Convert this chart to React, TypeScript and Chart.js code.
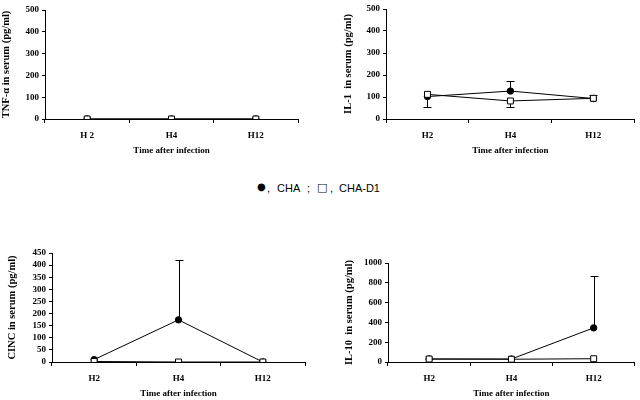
import React, { useEffect, useRef } from "react";
import { Chart, registerables } from "chart.js";
Chart.register(...registerables);

// ---------- data ----------
const timeLabelsTNF = ["H 2", "H4", "H12"];
const timeLabels = ["H2", "H4", "H12"];

const tnfCHA = [0, 0, 0];
const tnfCHAD1 = [0, 0, 0];

const il1CHA = [102, 127, 93];
const il1CHAUp = [0, 46, 0];
const il1CHADown = [46, 0, 0];
const il1CHAD1 = [112, 82, 94];
const il1CHAD1Up = [0, 0, 16];
const il1CHAD1Down = [0, 26, 0];

const cincCHA = [10, 174, 0];
const cincCHAUp = [0, 249, 0];
const cincCHAD1 = [2, 0, 0];

const il10CHA = [30, 30, 345];
const il10CHAUp = [0, 0, 525];
const il10CHAD1 = [30, 28, 33];

const zeros = [0, 0, 0];

const serif = "'Liberation Serif', 'Times New Roman', serif";
const FS = 9;
const LH = FS * 1.2;
const YFS = 10.5;
const YLH = YFS * 1.2;

const errorBarPlugin = {
  id: "errbars",
  beforeDatasetsDraw(chart: any) {
    const ctx = chart.ctx;
    const y = chart.scales.y;
    ctx.save();
    ctx.strokeStyle = "#000";
    ctx.lineWidth = 1;
    chart.data.datasets.forEach((ds: any, i: number) => {
      const meta = chart.getDatasetMeta(i);
      meta.data.forEach((pt: any, j: number) => {
        const v = ds.data[j];
        const up = ds.errUp ? ds.errUp[j] : 0;
        const dn = ds.errDown ? ds.errDown[j] : 0;
        const x = Math.round(pt.x) + 0.5;
        const draw = (val: number) => {
          const py = Math.round(y.getPixelForValue(val)) + 0.5;
          ctx.beginPath();
          ctx.moveTo(x, pt.y);
          ctx.lineTo(x, py);
          ctx.moveTo(x - 4, py);
          ctx.lineTo(x + 4, py);
          ctx.stroke();
        };
        if (up) draw(v + up);
        if (dn) draw(v - dn);
      });
    });
    ctx.restore();
  },
};

type PanelProps = {
  left: number; top: number; w: number; h: number;
  aLeft: number; aRight: number; aTop: number; aBottom: number;
  yTitleX: number; xTitleY: number;
  labels: string[];
  cha: number[]; chaUp: number[]; chaDown: number[];
  chad1: number[]; chad1Up: number[]; chad1Down: number[];
  yMax: number; yStep: number; yTitle: string;
};

function Panel(p: PanelProps) {
  const ref = useRef<HTMLCanvasElement>(null);
  useEffect(() => {
    const padLeft = p.yTitleX - YLH / 2;
    const yWidth = p.aLeft - padLeft;
    const xHeight = p.xTitleY + LH / 2 - p.aBottom;
    const padBottom = p.h - p.aBottom - xHeight;
    const font = { family: serif, size: FS, weight: "bold" as const };
    const yFont = { family: serif, size: YFS, weight: "bold" as const };
    const chart = new Chart(ref.current!, {
      type: "line",
      data: {
        labels: p.labels,
        datasets: [
          {
            label: "CHA-D1",
            data: p.chad1,
            errUp: p.chad1Up,
            errDown: p.chad1Down,
            borderColor: "#000",
            borderWidth: 1,
            pointStyle: "rect",
            pointRadius: 4.2,
            pointBackgroundColor: "#fff",
            pointBorderColor: "#000",
            pointBorderWidth: 1,
            order: 0,
          } as any,
          {
            label: "CHA",
            data: p.cha,
            errUp: p.chaUp,
            errDown: p.chaDown,
            borderColor: "#000",
            borderWidth: 1,
            pointStyle: "circle",
            pointRadius: 3.2,
            pointBackgroundColor: "#000",
            pointBorderColor: "#000",
            order: 1,
          } as any,
        ],
      },
      options: {
        animation: false,
        responsive: false,
        devicePixelRatio: 1,
        layout: {
          padding: { left: padLeft, right: p.w - p.aRight, top: p.aTop, bottom: padBottom },
        },
        plugins: { legend: { display: false }, tooltip: { enabled: false } },
        scales: {
          x: {
            offset: true,
            grid: { display: true, offset: true, drawOnChartArea: false, drawTicks: true, tickLength: 4, color: "#000" },
            border: { display: true, color: "#000", width: 1 },
            ticks: { color: "#000", font, padding: 7, maxRotation: 0 },
            title: { display: true, text: "Time after infection", color: "#000", font, padding: 0 },
            afterFit: (s: any) => { s.height = xHeight; },
          },
          y: {
            min: 0,
            max: p.yMax,
            ticks: {
              stepSize: p.yStep,
              autoSkip: false,
              color: "#000",
              font,
              padding: 3,
              callback: (v: any) => String(v),
            },
            grid: { display: true, drawOnChartArea: false, drawTicks: true, tickLength: 3, color: "#000" },
            border: { display: true, color: "#000", width: 1 },
            title: { display: true, text: p.yTitle, color: "#000", font: yFont, padding: 0 },
            afterFit: (s: any) => { s.width = yWidth; },
          },
        },
      },
      plugins: [errorBarPlugin],
    });
    return () => chart.destroy();
  }, []);
  return (
    <canvas
      ref={ref}
      width={p.w}
      height={p.h}
      style={{ position: "absolute", left: p.left, top: p.top, width: p.w, height: p.h }}
    />
  );
}

const legendStyle: React.CSSProperties = {
  position: "absolute",
  top: 181,
  fontFamily: "'Liberation Sans', Arial, sans-serif",
  fontSize: 11,
  lineHeight: "14px",
  color: "#000",
  whiteSpace: "pre",
};

export default function App() {
  return (
    <div style={{ position: "absolute", left: 0, top: 0, width: 640, height: 400, background: "#fff", overflow: "hidden" }}>
      <Panel left={0} top={0} w={320} h={170} aLeft={45} aRight={298} aTop={10} aBottom={119}
        yTitleX={6} xTitleY={151} labels={timeLabelsTNF}
        cha={tnfCHA} chaUp={zeros} chaDown={zeros} chad1={tnfCHAD1} chad1Up={zeros} chad1Down={zeros}
        yMax={500} yStep={100} yTitle="TNF-α in serum (pg/ml)" />
      <Panel left={320} top={0} w={320} h={170} aLeft={66} aRight={317} aTop={9} aBottom={119}
        yTitleX={28} xTitleY={151} labels={timeLabels}
        cha={il1CHA} chaUp={il1CHAUp} chaDown={il1CHADown} chad1={il1CHAD1} chad1Up={il1CHAD1Up} chad1Down={il1CHAD1Down}
        yMax={500} yStep={100} yTitle="IL-1  in serum (pg/ml)" />
      <Panel left={0} top={230} w={320} h={170} aLeft={52} aRight={305} aTop={23} aBottom={132}
        yTitleX={12.5} xTitleY={164} labels={timeLabels}
        cha={cincCHA} chaUp={cincCHAUp} chaDown={zeros} chad1={cincCHAD1} chad1Up={zeros} chad1Down={zeros}
        yMax={450} yStep={50} yTitle="CINC in serum (pg/ml)" />
      <Panel left={320} top={230} w={320} h={170} aLeft={68} aRight={316} aTop={33} aBottom={132}
        yTitleX={29} xTitleY={164} labels={timeLabels}
        cha={il10CHA} chaUp={il10CHAUp} chaDown={zeros} chad1={il10CHAD1} chad1Up={zeros} chad1Down={zeros}
        yMax={1000} yStep={200} yTitle="IL-10  in serum (pg/ml)" />
      <span style={{ ...legendStyle, left: 257, fontSize: 10, top: 180, fontFamily: "'DejaVu Sans', sans-serif" }}>●</span>
      <span style={{ ...legendStyle, left: 267 }}>,</span>
      <span style={{ ...legendStyle, left: 277 }}>CHA</span>
      <span style={{ ...legendStyle, left: 307 }}>;</span>
      <span style={{ ...legendStyle, left: 317, fontFamily: "'DejaVu Sans', sans-serif" }}>□</span>
      <span style={{ ...legendStyle, left: 330 }}>,</span>
      <span style={{ ...legendStyle, left: 339 }}>CHA-D1</span>
    </div>
  );
}
